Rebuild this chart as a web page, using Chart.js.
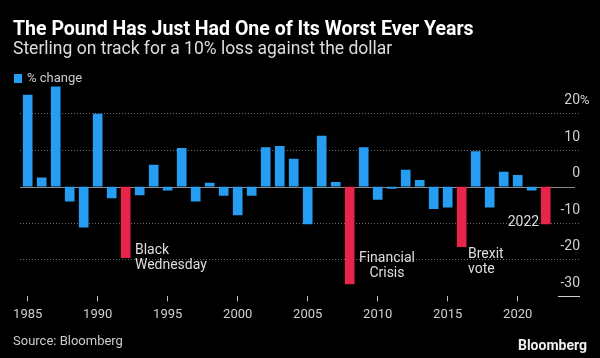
<!DOCTYPE html>
<html>
<head>
<meta charset="utf-8">
<script src="https://cdn.jsdelivr.net/npm/chart.js@4.4.1/dist/chart.umd.min.js"></script>
<style>
  html, body { margin:0; padding:0; background:#000; }
  #wrap { position:relative; width:600px; height:358px; overflow:hidden; background:#000; font-family: Roboto, "Noto Sans", sans-serif; }
  #c { position:absolute; left:0; top:0; }
  .t { position:absolute; white-space:nowrap; }
  #title { left:13px; top:19px; font-size:19.5px; line-height:19.5px; font-weight:700; color:#fff; }
  #subtitle { left:13px; top:40px; font-size:17.5px; line-height:17.5px; color:#ddd; }
  #legend { left:14px; top:70px; font-size:13px; line-height:16px; color:#ccc; }
  #legend .sw { display:inline-block; width:8px; height:9px; background:#279df2; margin-right:5px; vertical-align:-1px; }
  #source { left:13px; top:333px; font-size:13px; line-height:16px; color:#ccc; }
  #brand { right:13px; top:337px; font-size:14px; line-height:16px; font-weight:700; color:#eee; }
</style>
</head>
<body>
<div id="wrap">
  <canvas id="c" width="600" height="358"></canvas>
  <div class="t" id="title">The Pound Has Just Had One of Its Worst Ever Years</div>
  <div class="t" id="subtitle">Sterling on track for a 10% loss against the dollar</div>
  <div class="t" id="legend"><span class="sw"></span>% change</div>
  <div class="t" id="source">Source: Bloomberg</div>
  <div class="t" id="brand">Bloomberg</div>
</div>
<script>
// ---- data ----
const years = [1985,1986,1987,1988,1989,1990,1991,1992,1993,1994,
               1995,1996,1997,1998,1999,2000,2001,2002,2003,2004,
               2005,2006,2007,2008,2009,2010,2011,2012,2013,2014,
               2015,2016,2017,2018,2019,2020,2021,2022];
const pctChange = [25.0, 2.4, 27.3, -4.0, -11.1, 19.8, -3.1, -19.4, -2.3, 5.9,
                   -1.0, 10.5, -4.0, 1.0, -2.4, -7.7, -2.4, 10.7, 11.0, 7.5,
                   -10.2, 13.8, 1.2, -26.6, 10.7, -3.5, -0.5, 4.5, 1.7, -6.0,
                   -5.6, -16.4, 9.6, -5.6, 4.0, 3.1, -1.0, -10.2];
const highlightYears = [1992, 2008, 2016, 2022];
const xTickYears = [1985, 1990, 1995, 2000, 2005, 2010, 2015, 2020];
const yTickValues = [-30, -20, -10, 0, 10, 20];
const seriesLabel = '% change';

// ---- styles ----
const BLUE = '#279df2';
const RED = '#e8244a';

const notes = [
  { lines: ['Black', 'Wednesday'], x: 1992.66, y: -17.5, align: 'left' },
  { lines: ['Financial', 'Crisis'], x: 2010.66, y: -19.75, align: 'center' },
  { lines: ['Brexit', 'vote'], x: 2016.45, y: -18.65, align: 'left' },
  { lines: ['2022'], x: 2021.53, y: -9.7, align: 'right' }
];

const decor = {
  id: 'decor',
  beforeDatasetsDraw(chart) {
    const { ctx, chartArea, scales } = chart;
    const y0 = Math.round(scales.y.getPixelForValue(0)) + 0.5;
    ctx.save();
    ctx.strokeStyle = '#8a8a8a';
    ctx.lineWidth = 1;
    ctx.beginPath();
    ctx.moveTo(chartArea.left, y0);
    ctx.lineTo(chartArea.right - 5, y0);
    ctx.stroke();
    const yb = Math.round(scales.y.getPixelForValue(-30)) + 0.5;
    ctx.strokeStyle = '#cfcfcf';
    ctx.beginPath();
    ctx.moveTo(chartArea.right - 22, yb);
    ctx.lineTo(chartArea.right, yb);
    ctx.stroke();
    ctx.restore();
  },
  afterDraw(chart) {
    const { ctx, chartArea, scales } = chart;
    ctx.save();
    ctx.font = '14px Roboto, "Noto Sans", sans-serif';
    ctx.fillStyle = '#dedede';
    ctx.textBaseline = 'middle';
    notes.forEach(n => {
      const px = scales.x.getPixelForValue(n.x);
      const py = scales.y.getPixelForValue(n.y);
      ctx.textAlign = n.align;
      n.lines.forEach((l, i) => ctx.fillText(l, px, py + i * 14.5));
    });
    // percent sign after the top tick label
    ctx.font = '13px Roboto, "Noto Sans", sans-serif';
    ctx.fillStyle = '#cfcfcf';
    ctx.textAlign = 'left';
    ctx.fillText('%', chartArea.right, scales.y.getPixelForValue(20) - 13);
    ctx.restore();
  }
};

new Chart(document.getElementById('c'), {
  type: 'bar',
  data: {
    datasets: [{
      label: seriesLabel,
      data: years.map((yr, i) => ({ x: yr, y: pctChange[i] })),
      backgroundColor: years.map(yr => highlightYears.includes(yr) ? RED : BLUE),
      borderWidth: 0,
      barThickness: 9
    }]
  },
  options: {
    responsive: false,
    animation: false,
    devicePixelRatio: 1,
    layout: { padding: { left: 20, right: 20, top: 86, bottom: 29 } },
    plugins: { legend: { display: false }, tooltip: { enabled: false } },
    scales: {
      x: {
        type: 'linear',
        min: 1984.45,
        max: 2024.45,
        offset: false,
        afterBuildTicks: s => { s.ticks = xTickYears.map(v => ({ value: v })); },
        grid: { offset: false, drawOnChartArea: false, drawTicks: true, tickLength: 5, color: '#bdbdbd', lineWidth: 1 },
        border: { display: false },
        ticks: {
          color: '#cfcfcf', padding: 6, maxRotation: 0, autoSkip: false,
          font: { family: 'Roboto', size: 13 },
          callback: v => String(v)
        }
      },
      y: {
        position: 'right',
        min: -30,
        max: 27.5,
        afterBuildTicks: s => { s.ticks = yTickValues.map(v => ({ value: v })); },
        grid: {
          drawTicks: false,
          lineWidth: 1,
          color: c => (c.tick && (c.tick.value === 0 || c.tick.value === -30)) ? 'rgba(0,0,0,0)' : '#6a6a6a'
        },
        border: { display: false, dash: [1, 2] },
        ticks: {
          mirror: true, padding: 0, labelOffset: -13,
          color: '#cfcfcf',
          font: { family: 'Roboto', size: 14 },
          callback: v => String(v)
        }
      }
    }
  },
  plugins: [decor]
});
</script>
</body>
</html>
